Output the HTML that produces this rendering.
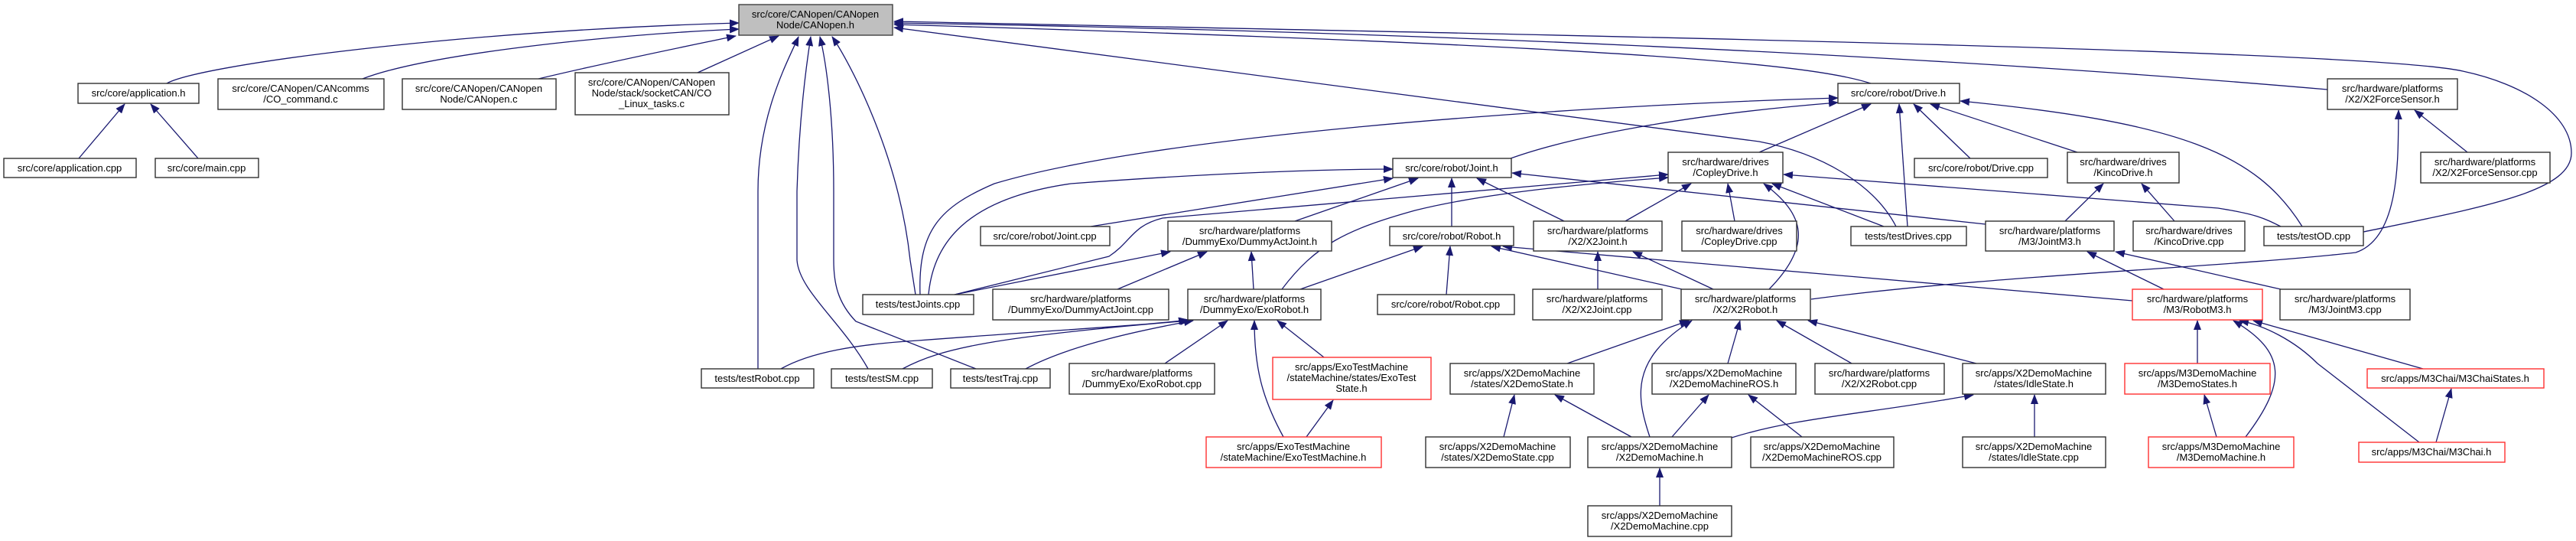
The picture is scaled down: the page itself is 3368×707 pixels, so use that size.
<!DOCTYPE html>
<html><head><meta charset="utf-8"><style>
html,body{margin:0;padding:0;background:#fff;}
svg{display:block;}
text{font-family:"Liberation Sans",sans-serif;font-size:13px;fill:#000;text-anchor:middle;}
.b{fill:#fff;stroke:#303030;stroke-width:1.4;}
.r{fill:#fff;stroke:#ff3030;stroke-width:1.4;}
.g{fill:#bfbfbf;stroke:#404040;stroke-width:1.4;}
.e{fill:none;stroke:#191970;stroke-width:1.3;marker-end:url(#a);}
</style></head><body>
<svg width="3368" height="707" viewBox="0 0 3368 707" xmlns="http://www.w3.org/2000/svg">
<defs><marker id="a" markerUnits="userSpaceOnUse" markerWidth="13" markerHeight="10" refX="12" refY="5" orient="auto"><path d="M0,0 L13,5 L0,10 z" fill="#191970"/></marker></defs>
<g>
<path class="e" d="M218,109 C260,85 600,40 966,30"/>
<path class="e" d="M474,103 C560,70 800,45 966,38"/>
<path class="e" d="M704,103 C800,80 900,60 962,47"/>
<path class="e" d="M912,95 L1018,47"/>
<path class="e" d="M991,482 L991,250 C991,150 1030,80 1044,48"/>
<path class="e" d="M1135,482 C1100,420 1045,380 1042,340 L1042,250 C1045,150 1055,80 1060,48"/>
<path class="e" d="M1276,482 L1119,420 C1095,395 1090,370 1090,340 L1090,250 C1090,150 1080,80 1072,48"/>
<path class="e" d="M1197,385 L1190,340 C1175,200 1110,80 1088,48"/>
<path class="e" d="M2446,109 C2380,88 2200,62 1169,32"/>
<path class="e" d="M3043,117 C2500,70 1800,40 1169,30"/>
<path class="e" d="M3090,303 C3250,270 3362,250 3362,200 C3362,150 3300,110 3220,93 C3100,65 2000,45 1169,28"/>
<path class="e" d="M2479,296 C2450,240 2380,200 2300,185 L1169,36"/>
<path class="e" d="M1203,385 C1200,300 1230,270 1300,240 C1500,180 2000,140 2403,128"/>
<path class="e" d="M1975,207 C2050,180 2200,150 2403,134"/>
<path class="e" d="M2300,199 L2446,136"/>
<path class="e" d="M2494,296 L2483,136"/>
<path class="e" d="M2576,207 L2502,136"/>
<path class="e" d="M2716,199 L2524,136"/>
<path class="e" d="M3010,296 C2950,200 2850,160 2563,132"/>
<path class="e" d="M1214,385 C1220,320 1260,260 1400,240 C1600,225 1750,221 1821,221"/>
<path class="e" d="M1426,296 L1821,233"/>
<path class="e" d="M1693,289 L1854,233"/>
<path class="e" d="M1898,296 L1898,233"/>
<path class="e" d="M2045,289 L1931,233"/>
<path class="e" d="M2596,293 L1977,226"/>
<path class="e" d="M1248,385 L1450,335 C1480,315 1480,295 1520,285 L2181,228"/>
<path class="e" d="M1676,378 C1720,320 1760,300 1850,275 C1950,250 2100,238 2181,232"/>
<path class="e" d="M2125,289 L2211,240"/>
<path class="e" d="M2268,289 L2259,240"/>
<path class="e" d="M2463,296 L2317,240"/>
<path class="e" d="M2313,378 C2370,320 2360,280 2306,240"/>
<path class="e" d="M2982,296 C2960,285 2950,280 2900,272 L2332,228"/>
<path class="e" d="M1891,385 L1896,322"/>
<path class="e" d="M1700,378 L1860,322"/>
<path class="e" d="M2199,378 L1950,322"/>
<path class="e" d="M2788,393 L1965,322"/>
<path class="e" d="M2089,378 L2089,329"/>
<path class="e" d="M2240,378 L2135,329"/>
<path class="e" d="M3226,199 L3157,144"/>
<path class="e" d="M2368,391 C2600,360 2900,350 3080,330 C3140,310 3135,200 3136,144"/>
<path class="e" d="M2700,289 L2750,240"/>
<path class="e" d="M2843,289 L2800,240"/>
<path class="e" d="M2829,378 L2729,329"/>
<path class="e" d="M2982,378 L2766,329"/>
<path class="e" d="M1021,482 C1060,460 1120,450 1200,445 C1400,430 1500,425 1553,418"/>
<path class="e" d="M1180,482 C1230,455 1300,440 1555,419"/>
<path class="e" d="M1341,482 C1400,450 1500,430 1560,419"/>
<path class="e" d="M1523,475 L1605,419"/>
<path class="e" d="M1731,467 L1670,419"/>
<path class="e" d="M1678,571 C1650,520 1640,480 1640,419"/>
<path class="e" d="M1708,571 L1743,523"/>
<path class="e" d="M1639,378 L1636,329"/>
<path class="e" d="M1461,378 L1578,329"/>
<path class="e" d="M1248,385 L1530,329"/>
<path class="e" d="M2049,475 L2208,419"/>
<path class="e" d="M2157,571 C2140,520 2130,470 2212,419"/>
<path class="e" d="M2259,475 L2275,419"/>
<path class="e" d="M2421,475 L2323,419"/>
<path class="e" d="M2584,475 L2364,419"/>
<path class="e" d="M1966,571 L1980,516"/>
<path class="e" d="M2133,571 L2033,516"/>
<path class="e" d="M2186,571 L2234,516"/>
<path class="e" d="M2356,571 L2286,516"/>
<path class="e" d="M2264,572 C2350,545 2450,540 2580,516"/>
<path class="e" d="M2660,571 L2660,516"/>
<path class="e" d="M2170,661 L2170,612"/>
<path class="e" d="M2873,475 L2873,419"/>
<path class="e" d="M2936,571 C2990,500 2990,460 2920,419"/>
<path class="e" d="M3163,578 L3030,475 C3000,445 2960,425 2928,419"/>
<path class="e" d="M3168,482 L2946,419"/>
<path class="e" d="M2898,571 L2882,516"/>
<path class="e" d="M3185,578 L3205,508"/>
<path class="e" d="M103,207 L163,136"/>
<path class="e" d="M259,207 L197,136"/>
</g>
<g>
<rect class="g" x="966" y="6" width="201" height="40"/><text x="1066" y="23">src/core/CANopen/CANopen</text><text x="1066" y="37">Node/CANopen.h</text>
<rect class="b" x="102" y="109" width="158" height="26"/><text x="181" y="126">src/core/application.h</text>
<rect class="b" x="285" y="103" width="217" height="40"/><text x="393" y="120">src/core/CANopen/CANcomms</text><text x="393" y="134">/CO_command.c</text>
<rect class="b" x="526" y="103" width="201" height="40"/><text x="626" y="120">src/core/CANopen/CANopen</text><text x="626" y="134">Node/CANopen.c</text>
<rect class="b" x="752" y="95" width="201" height="55"/><text x="852" y="112">src/core/CANopen/CANopen</text><text x="852" y="126">Node/stack/socketCAN/CO</text><text x="852" y="140">_Linux_tasks.c</text>
<rect class="b" x="5" y="207" width="173" height="25"/><text x="91" y="224">src/core/application.cpp</text>
<rect class="b" x="203" y="207" width="135" height="25"/><text x="270" y="224">src/core/main.cpp</text>
<rect class="b" x="2403" y="109" width="159" height="26"/><text x="2482" y="126">src/core/robot/Drive.h</text>
<rect class="b" x="3043" y="103" width="170" height="40"/><text x="3128" y="120">src/hardware/platforms</text><text x="3128" y="134">/X2/X2ForceSensor.h</text>
<rect class="b" x="1821" y="207" width="155" height="25"/><text x="1898" y="224">src/core/robot/Joint.h</text>
<rect class="b" x="2181" y="199" width="150" height="40"/><text x="2256" y="216">src/hardware/drives</text><text x="2256" y="230">/CopleyDrive.h</text>
<rect class="b" x="2503" y="207" width="174" height="25"/><text x="2590" y="224">src/core/robot/Drive.cpp</text>
<rect class="b" x="2703" y="199" width="146" height="40"/><text x="2776" y="216">src/hardware/drives</text><text x="2776" y="230">/KincoDrive.h</text>
<rect class="b" x="3165" y="199" width="169" height="40"/><text x="3249" y="216">src/hardware/platforms</text><text x="3249" y="230">/X2/X2ForceSensor.cpp</text>
<rect class="b" x="1282" y="296" width="169" height="25"/><text x="1366" y="313">src/core/robot/Joint.cpp</text>
<rect class="b" x="1527" y="289" width="214" height="39"/><text x="1634" y="306">src/hardware/platforms</text><text x="1634" y="320">/DummyExo/DummyActJoint.h</text>
<rect class="b" x="1817" y="296" width="162" height="25"/><text x="1898" y="313">src/core/robot/Robot.h</text>
<rect class="b" x="2005" y="289" width="168" height="39"/><text x="2089" y="306">src/hardware/platforms</text><text x="2089" y="320">/X2/X2Joint.h</text>
<rect class="b" x="2199" y="289" width="150" height="39"/><text x="2274" y="306">src/hardware/drives</text><text x="2274" y="320">/CopleyDrive.cpp</text>
<rect class="b" x="2420" y="296" width="151" height="25"/><text x="2495" y="313">tests/testDrives.cpp</text>
<rect class="b" x="2596" y="289" width="168" height="39"/><text x="2680" y="306">src/hardware/platforms</text><text x="2680" y="320">/M3/JointM3.h</text>
<rect class="b" x="2789" y="289" width="146" height="39"/><text x="2862" y="306">src/hardware/drives</text><text x="2862" y="320">/KincoDrive.cpp</text>
<rect class="b" x="2960" y="296" width="130" height="25"/><text x="3025" y="313">tests/testOD.cpp</text>
<rect class="b" x="1128" y="385" width="145" height="26"/><text x="1200" y="402">tests/testJoints.cpp</text>
<rect class="b" x="1298" y="378" width="230" height="40"/><text x="1413" y="395">src/hardware/platforms</text><text x="1413" y="409">/DummyExo/DummyActJoint.cpp</text>
<rect class="b" x="1553" y="378" width="174" height="40"/><text x="1640" y="395">src/hardware/platforms</text><text x="1640" y="409">/DummyExo/ExoRobot.h</text>
<rect class="b" x="1801" y="385" width="179" height="26"/><text x="1890" y="402">src/core/robot/Robot.cpp</text>
<rect class="b" x="2004" y="378" width="169" height="40"/><text x="2088" y="395">src/hardware/platforms</text><text x="2088" y="409">/X2/X2Joint.cpp</text>
<rect class="b" x="2198" y="378" width="169" height="40"/><text x="2282" y="395">src/hardware/platforms</text><text x="2282" y="409">/X2/X2Robot.h</text>
<rect class="r" x="2788" y="378" width="170" height="40"/><text x="2873" y="395">src/hardware/platforms</text><text x="2873" y="409">/M3/RobotM3.h</text>
<rect class="b" x="2981" y="378" width="170" height="40"/><text x="3066" y="395">src/hardware/platforms</text><text x="3066" y="409">/M3/JointM3.cpp</text>
<rect class="b" x="917" y="482" width="147" height="25"/><text x="990" y="499">tests/testRobot.cpp</text>
<rect class="b" x="1087" y="482" width="132" height="25"/><text x="1153" y="499">tests/testSM.cpp</text>
<rect class="b" x="1243" y="482" width="130" height="25"/><text x="1308" y="499">tests/testTraj.cpp</text>
<rect class="b" x="1398" y="475" width="190" height="40"/><text x="1493" y="492">src/hardware/platforms</text><text x="1493" y="506">/DummyExo/ExoRobot.cpp</text>
<rect class="r" x="1664" y="467" width="207" height="55"/><text x="1767" y="484">src/apps/ExoTestMachine</text><text x="1767" y="498">/stateMachine/states/ExoTest</text><text x="1767" y="512">State.h</text>
<rect class="b" x="1896" y="475" width="188" height="40"/><text x="1990" y="492">src/apps/X2DemoMachine</text><text x="1990" y="506">/states/X2DemoState.h</text>
<rect class="b" x="2160" y="475" width="188" height="40"/><text x="2254" y="492">src/apps/X2DemoMachine</text><text x="2254" y="506">/X2DemoMachineROS.h</text>
<rect class="b" x="2373" y="475" width="169" height="40"/><text x="2457" y="492">src/hardware/platforms</text><text x="2457" y="506">/X2/X2Robot.cpp</text>
<rect class="b" x="2566" y="475" width="187" height="40"/><text x="2659" y="492">src/apps/X2DemoMachine</text><text x="2659" y="506">/states/IdleState.h</text>
<rect class="r" x="2778" y="475" width="190" height="40"/><text x="2873" y="492">src/apps/M3DemoMachine</text><text x="2873" y="506">/M3DemoStates.h</text>
<rect class="r" x="3095" y="482" width="231" height="25"/><text x="3210" y="499">src/apps/M3Chai/M3ChaiStates.h</text>
<rect class="r" x="1577" y="571" width="229" height="40"/><text x="1691" y="588">src/apps/ExoTestMachine</text><text x="1691" y="602">/stateMachine/ExoTestMachine.h</text>
<rect class="b" x="1864" y="571" width="189" height="40"/><text x="1958" y="588">src/apps/X2DemoMachine</text><text x="1958" y="602">/states/X2DemoState.cpp</text>
<rect class="b" x="2076" y="571" width="188" height="40"/><text x="2170" y="588">src/apps/X2DemoMachine</text><text x="2170" y="602">/X2DemoMachine.h</text>
<rect class="b" x="2289" y="571" width="187" height="40"/><text x="2382" y="588">src/apps/X2DemoMachine</text><text x="2382" y="602">/X2DemoMachineROS.cpp</text>
<rect class="b" x="2566" y="571" width="187" height="40"/><text x="2659" y="588">src/apps/X2DemoMachine</text><text x="2659" y="602">/states/IdleState.cpp</text>
<rect class="r" x="2809" y="571" width="190" height="40"/><text x="2904" y="588">src/apps/M3DemoMachine</text><text x="2904" y="602">/M3DemoMachine.h</text>
<rect class="r" x="3084" y="578" width="191" height="26"/><text x="3179" y="595">src/apps/M3Chai/M3Chai.h</text>
<rect class="b" x="2076" y="661" width="188" height="40"/><text x="2170" y="678">src/apps/X2DemoMachine</text><text x="2170" y="692">/X2DemoMachine.cpp</text>
</g>
</svg>
</body></html>
